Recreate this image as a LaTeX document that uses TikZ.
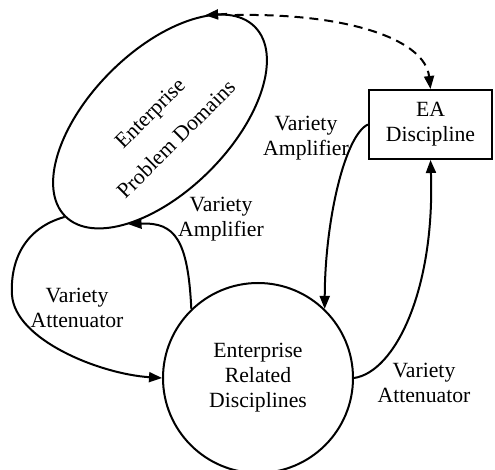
\documentclass[tikz,border=0pt]{standalone}
\usepackage{fontspec}
\setmainfont{Liberation Serif}
\usetikzlibrary{shapes.geometric,arrows.meta}
\begin{document}
\begin{tikzpicture}[x=1pt,y=-1pt,
  every node/.style={font=\fontsize{21.7}{25}\selectfont},
  shapeline/.style={draw, line width=2pt},
  tip/.style={-{Triangle[length=13pt,width=10pt]}},
  conn/.style={line width=2pt, tip},
  dashconn/.style={line width=2pt, tip, dash pattern=on 9pt off 6pt},
  lbl/.style={align=center, inner sep=0pt}]
\useasboundingbox (0,0) rectangle (495,470);
\node[shapeline, ellipse, rotate=45, minimum width=268pt, minimum height=140pt,
      inner sep=0pt] (ep) at (160,121.5) {};
\node[rotate=45, align=center, inner sep=0pt] (ept) at (163,126) {Enterprise\\[12pt]Problem Domains};
\node[shapeline, circle, minimum size=190pt, inner sep=0pt, align=center] (c) at (258,378)
      {Enterprise\\Related\\Disciplines};
\node[shapeline, rectangle, minimum width=123pt, minimum height=69pt, inner sep=0pt,
      align=center] (ea) at (430.5,124.5) {EA\\Discipline};
% connectors
\draw[conn] (ea.west) .. controls (345,135) and (325,220) .. (c.46);
\draw[conn] (c.east) .. controls (395,372) and (435,290) .. (ea.south);
\draw[conn] (c.134) .. controls (188,240) and (175,222) .. (ep.208.7);
\draw[conn] (ep.west) .. controls (25,228) and (10,260) .. (12,295)
            .. controls (15,340) and (100,374) .. (c.west);
\draw[dashconn] (ep.10.6) .. controls (350,13) and (425,40) .. (ea.north);
\draw[conn] (ep.13) -- (ep.22);
% labels
\node[lbl] (l1) at (306,138) {Variety\\Amplifier};
\node[lbl] (l2) at (221,219.5) {Variety\\Amplifier};
\node[lbl] (l3) at (77,307.5) {Variety\\Attenuator};
\node[lbl] (l4) at (424,382.5) {Variety\\Attenuator};
\end{tikzpicture}
\end{document}
